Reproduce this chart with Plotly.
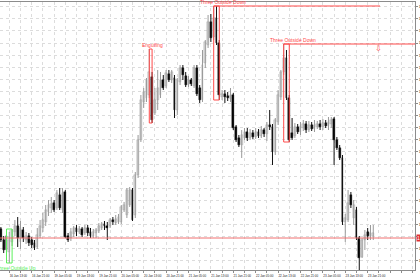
import plotly.graph_objects as go

# ---- data (hourly candles, 16 Jan 10:00 .. 23 Jan 23:00) ----
days = [("16 Jan", list(range(10, 24))), ("19 Jan", list(range(24))), ("20 Jan", list(range(24))),
        ("21 Jan", list(range(24))), ("22 Jan", list(range(24))), ("23 Jan", list(range(24)))]
times = [f"{d} {h:02d}:00" for d, hs in days for h in hs]

open_ = [1.1771,1.1760,1.1764,1.1748,1.1758,1.1768,1.1774,1.1758,1.1770,1.1760,
         1.1764,1.1760,1.1757,1.1753,1.1764,1.1772,1.1778,1.1788,1.1792,1.1797,
         1.1792,1.1805,1.1790,1.1808,1.1764,1.1762,1.1766,1.1772,1.1768,1.1771,
         1.1767,1.1772,1.1768,1.1764,1.1767,1.1769,1.1772,1.1776,1.1774,1.1774,
         1.1780,1.1777,1.1778,1.1778,1.1790,1.1785,1.1795,1.1810,1.1785,1.1825,
         1.1860,1.1898,1.1902,1.1905,1.1923,1.1887,1.1900,1.1905,1.1920,1.1914,
         1.1926,1.1920,1.1922,1.1890,1.1918,1.1932,1.1924,1.1915,1.1920,1.1914,
         1.1932,1.1912,1.1900,1.1937,1.1955,1.1978,1.1963,1.1982,1.1957,1.1903,
         1.1906,1.1904,1.1901,1.1905,1.1873,1.1862,1.1855,1.1862,1.1868,1.1862,
         1.1867,1.1863,1.1868,1.1864,1.1870,1.1866,1.1875,1.1873,1.1848,1.1878,
         1.1903,1.1928,1.1942,1.1902,1.1867,1.1864,1.1873,1.1868,1.1872,1.1876,
         1.1870,1.1875,1.1871,1.1873,1.1876,1.1873,1.1877,1.1874,1.1876,1.1881,
         1.1860,1.1852,1.1842,1.1778,1.1780,1.1805,1.1782,1.1790,1.1762,1.1743,
         1.1760,1.1768,1.1763,1.1764]
high = [1.1773,1.1764,1.1770,1.1768,1.1771,1.1780,1.1783,1.1779,1.1773,1.1768,
        1.1767,1.1763,1.1760,1.1772,1.1780,1.1787,1.1795,1.1800,1.1803,1.1800,
        1.1810,1.1812,1.1812,1.1810,1.1767,1.1772,1.1774,1.1775,1.1774,1.1773,
        1.1775,1.1775,1.1772,1.1771,1.1772,1.1777,1.1778,1.1779,1.1778,1.1782,
        1.1783,1.1785,1.1786,1.1795,1.1798,1.1812,1.1813,1.1812,1.1828,1.1865,
        1.1905,1.1912,1.1922,1.1951,1.1928,1.1912,1.1930,1.1928,1.1925,1.1930,
        1.1930,1.1930,1.1925,1.1922,1.1935,1.1935,1.1928,1.1924,1.1922,1.1935,
        1.1935,1.1915,1.1950,1.1960,1.1985,1.1986,1.1994,1.1994,1.1960,1.1910,
        1.1910,1.1908,1.1912,1.1907,1.1875,1.1865,1.1870,1.1872,1.1872,1.1871,
        1.1870,1.1872,1.1871,1.1874,1.1872,1.1878,1.1890,1.1876,1.1882,1.1910,
        1.1930,1.1956,1.1950,1.1905,1.1882,1.1877,1.1876,1.1878,1.1880,1.1879,
        1.1879,1.1878,1.1880,1.1879,1.1880,1.1881,1.1880,1.1883,1.1883,1.1883,
        1.1863,1.1855,1.1845,1.1786,1.1810,1.1808,1.1800,1.1793,1.1764,1.1762,
        1.1770,1.1772,1.1775,1.1775]
low = [1.1758,1.1747,1.1742,1.1737,1.1754,1.1764,1.1753,1.1751,1.1758,1.1756,
       1.1754,1.1752,1.1750,1.1751,1.1762,1.1768,1.1774,1.1784,1.1787,1.1788,
       1.1790,1.1790,1.1787,1.1762,1.1758,1.1759,1.1763,1.1764,1.1766,1.1763,
       1.1765,1.1764,1.1762,1.1762,1.1762,1.1767,1.1770,1.1770,1.1760,1.1772,
       1.1775,1.1775,1.1776,1.1776,1.1788,1.1782,1.1793,1.1779,1.1782,1.1822,
       1.1858,1.1892,1.1898,1.1902,1.1877,1.1885,1.1890,1.1902,1.1910,1.1912,
       1.1918,1.1917,1.1882,1.1885,1.1915,1.1920,1.1913,1.1913,1.1914,1.1912,
       1.1904,1.1897,1.1898,1.1932,1.1952,1.1958,1.1960,1.1955,1.1900,1.1900,
       1.1897,1.1899,1.1898,1.1870,1.1858,1.1853,1.1842,1.1860,1.1859,1.1860,
       1.1861,1.1861,1.1862,1.1862,1.1863,1.1859,1.1870,1.1835,1.1845,1.1875,
       1.1900,1.1925,1.1900,1.1858,1.1860,1.1862,1.1866,1.1865,1.1869,1.1867,
       1.1868,1.1869,1.1868,1.1871,1.1870,1.1870,1.1872,1.1870,1.1872,1.1835,
       1.1850,1.1840,1.1775,1.1758,1.1778,1.1792,1.1775,1.1760,1.1730,1.1742,
       1.1750,1.1760,1.1760,1.1760]
close = [1.1760,1.1750,1.1750,1.1760,1.1770,1.1774,1.1762,1.1772,1.1762,1.1764,
         1.1757,1.1755,1.1752,1.1765,1.1774,1.1780,1.1790,1.1795,1.1796,1.1790,
         1.1807,1.1792,1.1807,1.1763,1.1760,1.1768,1.1772,1.1768,1.1771,1.1765,
         1.1772,1.1767,1.1764,1.1768,1.1770,1.1774,1.1776,1.1774,1.1772,1.1780,
         1.1778,1.1781,1.1783,1.1793,1.1795,1.1810,1.1810,1.1780,1.1825,1.1860,
         1.1900,1.1908,1.1920,1.1928,1.1880,1.1900,1.1912,1.1920,1.1912,1.1927,
         1.1920,1.1928,1.1890,1.1920,1.1932,1.1925,1.1915,1.1920,1.1916,1.1932,
         1.1906,1.1900,1.1935,1.1958,1.1978,1.1962,1.1982,1.1957,1.1905,1.1906,
         1.1903,1.1902,1.1905,1.1872,1.1860,1.1855,1.1865,1.1868,1.1862,1.1867,
         1.1863,1.1868,1.1864,1.1870,1.1866,1.1875,1.1873,1.1848,1.1880,1.1905,
         1.1928,1.1942,1.1902,1.1860,1.1862,1.1873,1.1868,1.1874,1.1876,1.1870,
         1.1875,1.1871,1.1875,1.1876,1.1873,1.1877,1.1874,1.1878,1.1880,1.1860,
         1.1852,1.1842,1.1778,1.1782,1.1797,1.1795,1.1795,1.1762,1.1742,1.1760,
         1.1765,1.1764,1.1767,1.1767]

# candlestick patterns: (label, first candle, last candle, colour, extend line to)
patterns = [("Engulfing", 53, 54, "#ff4a4a", None),
            ("Three Outside Down", 76, 78, "#ff4a4a", 135.4),
            ("Three Outside Down", 101, 103, "#ff4a4a", 147.9),
            ("Three Outside Up", 2, 4, "#5cf05c", None)]
level_price = 1.1762

n = len(times)
xs = list(range(n))
bull = [i for i in xs if close[i] >= open_[i]]
bear = [i for i in xs if close[i] < open_[i]]

fig = go.Figure()

def wick_trace(idx, color):
    wx, wy = [], []
    for i in idx:
        wx += [i, i, None]
        wy += [low[i], high[i], None]
    return go.Scatter(x=wx, y=wy, mode="lines", line=dict(color=color, width=1),
                      hoverinfo="skip", showlegend=False)

def body_trace(idx, color, lcolor):
    mn = 0.00008
    base = [min(open_[i], close[i]) for i in idx]
    h = [max(abs(close[i] - open_[i]), mn) for i in idx]
    return go.Bar(x=idx, y=h, base=base, width=0.7, marker=dict(color=color, line=dict(color=lcolor, width=0.4)),
                  showlegend=False, hoverinfo="skip")

fig.add_trace(wick_trace(bull, "#9a9a9a"))
fig.add_trace(wick_trace(bear, "#111111"))
fig.add_trace(body_trace(bull, "#e2e2e2", "#9a9a9a"))
fig.add_trace(body_trace(bear, "#000000", "#000000"))

shapes = []
annotations = []
for name, a, b, col, ext in patterns:
    hi = max(high[a:b + 1])
    lo = min(low[a:b + 1])
    shapes.append(dict(type="rect", xref="x", yref="y", x0=a, x1=b, y0=lo, y1=hi,
                       line=dict(color=col, width=1), fillcolor="rgba(0,0,0,0)"))
    if ext is not None:
        shapes.append(dict(type="line", xref="x", yref="y", x0=a, x1=ext, y0=hi, y1=hi,
                           line=dict(color=col, width=1)))
    if "Up" in name:
        annotations.append(dict(x=(a + b) / 2 + 2.3, y=lo, xref="x", yref="y", text=name, showarrow=False,
                                yanchor="top", yshift=0, font=dict(size=5, color=col, family="Liberation Sans")))
    else:
        annotations.append(dict(x=(a + b) / 2 + (2.3 if "Three" in name else 0.6), y=hi, xref="x", yref="y",
                                text=name, showarrow=False, yanchor="bottom", yshift=-1,
                                font=dict(size=5, color=col, family="Liberation Sans")))

shapes.append(dict(type="line", xref="paper", yref="y", x0=0, x1=1, y0=level_price, y1=level_price,
                   line=dict(color="#f07070", width=1)))
annotations.append(dict(x=134.7, y=1.1952, xref="x", yref="y", text="⇩", showarrow=False,
                        font=dict(size=8, color="#ff4a4a", family="DejaVu Sans")))
annotations.append(dict(x=1, y=level_price, xref="paper", yref="y", text=f"{level_price:.4f}", showarrow=False,
                        xanchor="left", xshift=1, bgcolor="#e03030", borderpad=0,
                        font=dict(size=5, color="white", family="Liberation Sans")))

tickvals = list(range(3, 148, 4))
ticktext = [times[v] if (v - 3) % 8 == 0 and v < n else "" for v in tickvals]
ytickvals = [round(1.19933 - 0.00121 * k, 5) for k in range(23)]
yticktext = ["" if abs(v - level_price) < 0.0005 else f"{v:.4f}" for v in ytickvals]

fig.update_layout(
    width=420, height=280, margin=dict(l=0, r=5, t=2, b=10, autoexpand=False),
    paper_bgcolor="white", plot_bgcolor="white", barmode="overlay", bargap=0,
    shapes=shapes, annotations=annotations, showlegend=False,
    xaxis=dict(range=[-0.32, 147.9], tickmode="array", tickvals=tickvals, ticktext=ticktext,
               showgrid=True, gridcolor="#dcdcdc", griddash="dot", gridwidth=1, automargin=False,
               showline=True, linecolor="#8c8c8c", linewidth=1, mirror=True,
               ticks="outside", ticklen=2, tickcolor="#8c8c8c", ticklabelshift=9,
               tickfont=dict(size=3, color="#222", family="Liberation Sans"), zeroline=False),
    yaxis=dict(range=[1.1730, 1.1998], side="right", tickmode="array", tickvals=ytickvals,
               ticktext=yticktext, automargin=False,
               showgrid=True, gridcolor="#dcdcdc", griddash="dot", gridwidth=1,
               showline=True, linecolor="#8c8c8c", linewidth=1,
               ticks="outside", ticklen=2, tickcolor="#8c8c8c",
               tickfont=dict(size=4, color="#222", family="Liberation Sans"), zeroline=False),
)

fig.write_html("out.html")
